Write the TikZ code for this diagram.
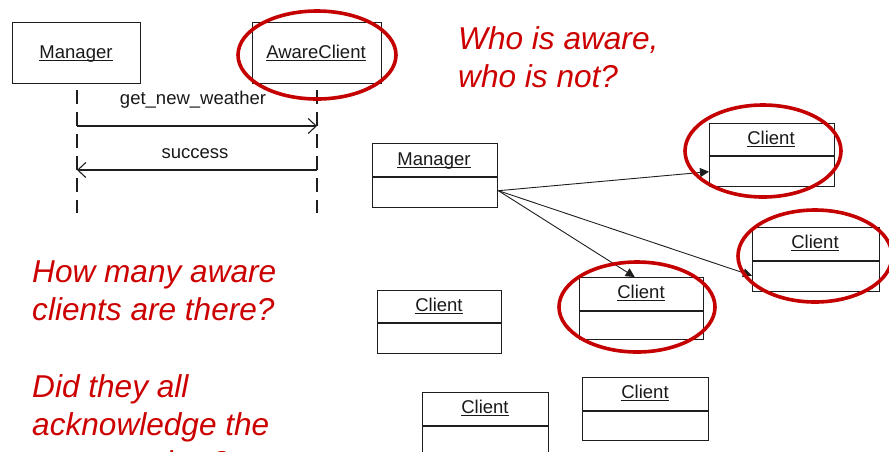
\documentclass[tikz,border=0pt]{standalone}
\usepackage{fontspec}
\setmainfont{Liberation Sans}
\usetikzlibrary{arrows.meta,calc}

\definecolor{ink}{RGB}{204,0,0}
\definecolor{ringred}{RGB}{196,0,0}
\definecolor{umlline}{RGB}{30,30,30}

% underlined object name, rule a little below the baseline
\newcommand\umlname[1]{\setbox0=\hbox{#1}\rlap{\rule[-3pt]{\wd0}{1.1pt}}\box0}

\tikzset{
  umltext/.style={font=\fontsize{18.5}{22}\selectfont, inner sep=0pt, anchor=base, text=black!90},
  umlbox/.style={draw=umlline, line width=1.4pt, inner sep=0pt, anchor=north west},
  lifeline/.style={draw=umlline, line width=1.3pt, dash pattern=on 14pt off 8pt},
  msg/.style={draw=umlline, line width=1.2pt, -{Straight Barb[length=8pt,width=15pt,line width=1.1pt]}},
  assoc/.style={draw=umlline, line width=0.9pt, -{Triangle[length=9pt,width=9pt]}},
  divider/.style={draw=umlline, line width=1.4pt},
  ring/.style={draw=ringred, line width=3.6pt},
  question/.style={font=\fontsize{31.6}{38}\selectfont\itshape, text=ink, inner sep=0pt, anchor=base west}
}

\begin{document}
\begin{tikzpicture}[x=1pt,y=-1pt]
\useasboundingbox (0,0) rectangle (889,451);
\clip (0,0) rectangle (889,451);

% ---------- sequence diagram ----------
\node[umlbox, minimum width=128pt, minimum height=61pt] (mgrS) at (12,22) {};
\node[umlbox, minimum width=129pt, minimum height=61pt] (awS) at (252,22) {};
\node[umltext] (mgrSt) at (76,58) {\umlname{Manager}};
\node[umltext] (awSt) at (316,58) {\umlname{AwareClient}};

\coordinate (mgrTop) at (77,90);
\coordinate (mgrBot) at (77,213);
\coordinate (awTop) at (317,90);
\coordinate (awBot) at (317,213);
\draw[lifeline] (mgrTop) -- (mgrBot);
\draw[lifeline] (awTop) -- (awBot);

\coordinate (m1s) at (77,126);
\coordinate (m1e) at (317,126);
\coordinate (m2s) at (317,170);
\coordinate (m2e) at (77,170);
\draw[msg] (m1s) -- (m1e);
\draw[msg] (m2s) -- (m2e);
\node[umltext] (m1l) at (193,104) {get\_new\_weather};
\node[umltext] (m2l) at (195,158) {success};

% ---------- object diagram ----------
\node[umlbox, minimum width=125pt, minimum height=64pt] (mgrC) at (372,143) {};
\draw[divider] ($(mgrC.north west)+(0,34)$) -- ($(mgrC.north east)+(0,34)$);
\node[umltext] (mgrCt) at (434,165) {\umlname{Manager}};

\node[umlbox, minimum width=125pt, minimum height=63pt] (c1) at (709,123) {};
\draw[divider] ($(c1.north west)+(0,33)$) -- ($(c1.north east)+(0,33)$);
\node[umltext] (c1t) at (771,144) {\umlname{Client}};

\node[umlbox, minimum width=127pt, minimum height=64pt] (c2) at (752,227) {};
\draw[divider] ($(c2.north west)+(0,34)$) -- ($(c2.north east)+(0,34)$);
\node[umltext] (c2t) at (815,248) {\umlname{Client}};

\node[umlbox, minimum width=124pt, minimum height=62pt] (c3) at (579,277) {};
\draw[divider] ($(c3.north west)+(0,34)$) -- ($(c3.north east)+(0,34)$);
\node[umltext] (c3t) at (641,298) {\umlname{Client}};

\node[umlbox, minimum width=124pt, minimum height=63pt] (c4) at (377,290) {};
\draw[divider] ($(c4.north west)+(0,33)$) -- ($(c4.north east)+(0,33)$);
\node[umltext] (c4t) at (439,311) {\umlname{Client}};

\node[umlbox, minimum width=126pt, minimum height=70pt] (c5) at (422,392) {};
\draw[divider] ($(c5.north west)+(0,34)$) -- ($(c5.north east)+(0,34)$);
\node[umltext] (c5t) at (485,413) {\umlname{Client}};

\node[umlbox, minimum width=126pt, minimum height=63pt] (c6) at (582,377) {};
\draw[divider] ($(c6.north west)+(0,34)$) -- ($(c6.north east)+(0,34)$);
\node[umltext] (c6t) at (645,398) {\umlname{Client}};

% associations from the manager object
\coordinate (src) at ([yshift=-15pt]mgrC.east);
\draw[assoc] (src) -- ([yshift=-16.5pt]c1.west);
\draw[assoc] (src) -- ([yshift=-16pt]c2.west);
\draw[assoc] (src) -- ([xshift=-7pt]c3.north);

% ---------- highlight rings ----------
\draw[ring] (317,55) ellipse [x radius=79pt, y radius=44pt];
\draw[ring] (763,151) ellipse [x radius=78pt, y radius=46pt];
\draw[ring] (815,256) ellipse [x radius=77pt, y radius=46pt];
\draw[ring] (637,307) ellipse [x radius=78pt, y radius=45pt];

% ---------- questions ----------
\node[question] (qa1) at (458,49) {Who is aware,};
\node[question] (qa2) at (458,87) {who is not?};
\node[question] (qb1) at (32,282) {How many aware};
\node[question] (qb2) at (32,320) {clients are there?};
\node[question] (qc1) at (32,397) {Did they all};
\node[question] (qc2) at (32,435) {acknowledge the};
\node[question] (qc3) at (32,473) {new weather?};
\end{tikzpicture}
\end{document}
